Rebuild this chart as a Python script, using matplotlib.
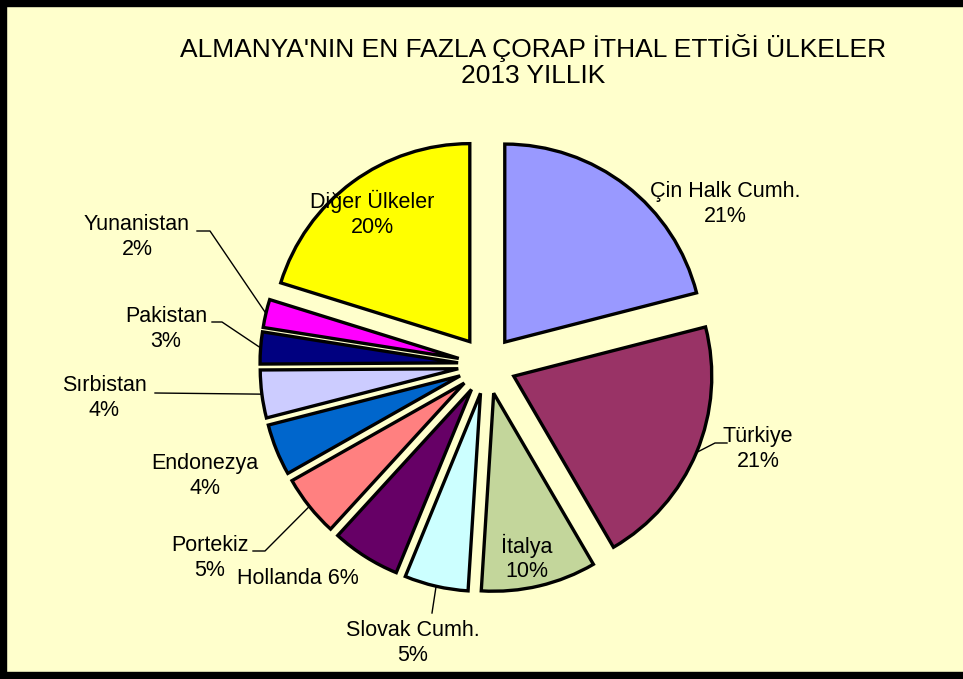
import matplotlib
matplotlib.use("Agg")
import numpy as np
import matplotlib.pyplot as plt
from matplotlib.patches import Rectangle

plt.rcParams['font.family'] = ['Liberation Sans', 'DejaVu Sans']

# ---------- data ----------
countries = ["Çin Halk Cumh.", "Türkiye", "İtalya", "Slovak Cumh.", "Hollanda",
             "Portekiz", "Endonezya", "Sırbistan", "Pakistan", "Yunanistan",
             "Diğer Ülkeler"]
shares = [21.0, 20.6, 9.4, 5.2, 5.6, 5.0, 4.2, 3.9, 2.6, 2.3, 20.2]
pct_labels = ["21%", "21%", "10%", "5%", "6%", "5%", "4%", "4%", "3%", "2%", "20%"]
colors = ["#9999FF", "#993366", "#C3D69B", "#CCFFFF", "#660066", "#FF8080",
          "#0066CC", "#CCCCFF", "#000080", "#FF00FF", "#FFFF00"]
title = "ALMANYA'NIN EN FAZLA ÇORAP İTHAL ETTİĞİ ÜLKELER\n2013 YILLIK"

# ---------- layout (pixels, origin top-left) ----------
W, H = 963, 679
cx, cy = 487, 365
radius = 198
explode_px = 29
# label centre and elbow/end points of the leader lines
label_pos = [(725, 204), (758, 449), (527, 558), (413, 643), (298, 578),
             (210, 558), (205, 476), (104, 398), (166, 329), (137, 237), (372, 214)]
leaders = {1: [(715, 443), (727, 443)],
           3: [(432, 613)],
           5: [(265, 551), (253, 551)],
           7: [(155, 393)],
           8: [(222, 322), (212, 322)],
           9: [(210, 231), (197, 231)]}


def px(x, y):
    return x, H - y


fig = plt.figure(figsize=(W / 100, H / 100), dpi=100)
fig.patch.set_facecolor("#FFFFCC")
ax = fig.add_axes([0, 0, 1, 1])
ax.set_facecolor("#FFFFCC")

wedges, _ = ax.pie(shares, colors=colors, startangle=90, counterclock=False,
                   radius=radius, center=px(cx, cy),
                   explode=[explode_px] * len(shares),
                   wedgeprops=dict(edgecolor="black", linewidth=2.4, joinstyle="miter"))

ax.set_xlim(0, W)
ax.set_ylim(0, H)
ax.set_aspect("equal")
ax.axis("off")

for i, w in enumerate(wedges):
    sep = " " if countries[i] == "Hollanda" else "\n"
    ax.text(*px(*label_pos[i]), countries[i] + sep + pct_labels[i],
            ha="center", va="center", fontsize=15.5, linespacing=1.2, zorder=5)
    if i in leaders:
        # leader starts on the arc at the middle of the slice
        mid = np.deg2rad((w.theta1 + w.theta2) / 2)
        x0 = w.center[0] + w.r * np.cos(mid)
        y0 = w.center[1] + w.r * np.sin(mid)
        pts = [(x0, y0)] + [px(*p) for p in leaders[i]]
        ax.plot([p[0] for p in pts], [p[1] for p in pts], color="black", lw=1.0, zorder=4)

fig.text(533 / W, 1 - 61 / H, title, ha="center", va="center", fontsize=19,
         linespacing=1.08)

# black frame on left, top and bottom
fig.patches.append(Rectangle((0, 0), 6 / W, 1, transform=fig.transFigure,
                             color="black", zorder=10))
fig.patches.append(Rectangle((0, 1 - 6 / H), 1, 6 / H, transform=fig.transFigure,
                             color="black", zorder=10))
fig.patches.append(Rectangle((0, 0), 1, 7 / H, transform=fig.transFigure,
                             color="black", zorder=10))

fig.savefig("out.png", dpi=100, facecolor=fig.get_facecolor())
